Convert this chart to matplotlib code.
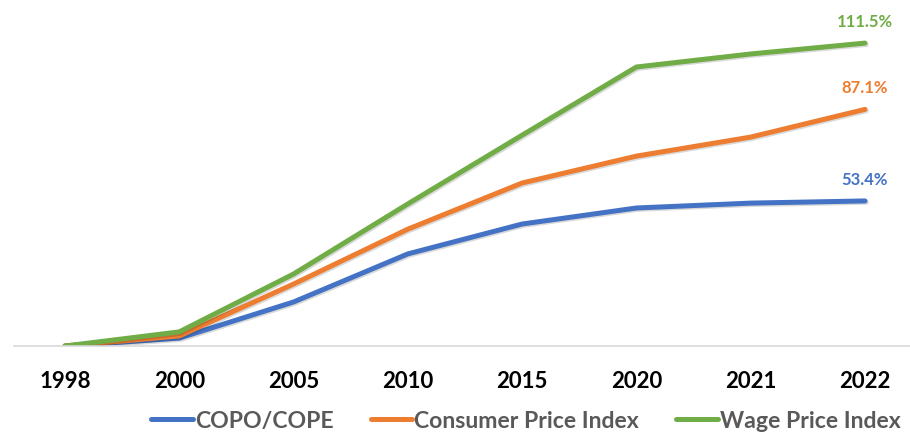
import matplotlib.pyplot as plt
import matplotlib.patheffects as pe
import numpy as np

years = ['1998', '2000', '2005', '2010', '2015', '2020', '2021', '2022']
copo = [0, 2.9, 16.2, 33.9, 44.9, 50.8, 52.6, 53.4]
cpi = [0, 3.7, 22.8, 43.0, 60.0, 69.9, 76.9, 87.1]
wage = [0, 5.2, 26.5, 52.3, 77.6, 102.7, 107.5, 111.5]

names = ['COPO/COPE', 'Consumer Price Index', 'Wage Price Index']
colors = ['#4472C4', '#ED7D31', '#70AD47']

plt.rcParams['font.family'] = ['Lato', 'DejaVu Sans']

fig = plt.figure(figsize=(9.1, 4.35), dpi=100)
ax = fig.add_axes([14 / 910, 88 / 435, 896 / 910, 326 / 435])

x = np.arange(len(years))
shadow = [pe.SimpleLineShadow(offset=(1, -1), alpha=0.15), pe.Normal()]
for vals, name, c in zip([copo, cpi, wage], names, colors):
    ax.plot(x, vals, color=c, lw=3.6, label=name, solid_capstyle='round',
            solid_joinstyle='round', path_effects=shadow)
    ax.annotate(f'{vals[-1]:.1f}%', (x[-1], vals[-1]), xytext=(0, 16),
                textcoords='offset points', ha='center', va='center',
                color=c, fontsize=12, fontweight='bold')

ax.set_xlim(-0.446, 7.394)
ax.set_ylim(0, 120)
ax.set_xticks(x)
ax.set_xticklabels(years, fontsize=16, fontweight='bold', color='black')
ax.tick_params(axis='x', length=0, pad=17)
ax.set_yticks([])
for s in ['top', 'right', 'left']:
    ax.spines[s].set_visible(False)
ax.spines['bottom'].set_color('#D9D9D9')
ax.spines['bottom'].set_linewidth(1.2)
ax.set_zorder(1)

leg = fig.legend(loc='center', bbox_to_anchor=(0.578, 0.03), ncol=3, frameon=False,
                 prop={'size': 16.6, 'weight': 'bold'}, handlelength=1.8,
                 handletextpad=0.1, columnspacing=1.6)
for t in leg.get_texts():
    t.set_color('#595959')
for h in leg.get_lines():
    h.set_path_effects([])

fig.savefig('out.png', dpi=100)
